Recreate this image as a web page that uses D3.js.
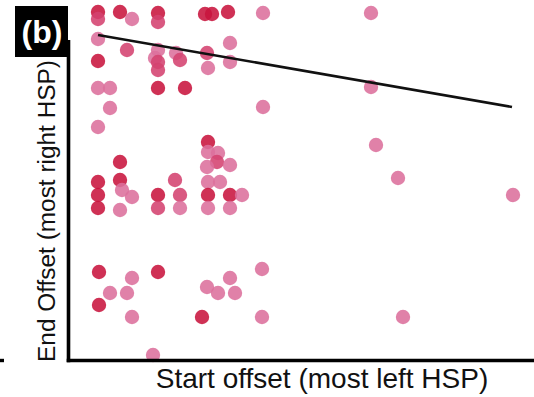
<!DOCTYPE html>
<html>
<head>
<meta charset="utf-8">
<script src="https://cdn.jsdelivr.net/npm/d3@7/dist/d3.min.js"></script>
<style>
  html, body { margin: 0; padding: 0; background: #fff; }
  svg { display: block; }
  text { font-family: "Liberation Sans", Arial, Helvetica, sans-serif; }
</style>
</head>
<body>
<svg id="chart" width="534" height="397"></svg>
<script>
// Start offset (most left HSP) of each hit
const startOffset = [
  30, 30, 52, 64, 90, 90, 137, 144, 160, 195, 303,
  30, 59, 87, 90, 90, 90, 108, 112, 139, 140, 162, 162, 30, 303,
  30, 42, 90, 117, 42, 30, 195, 308, 330, 445,
  140, 140, 150, 149, 139, 162, 52,
  30, 30, 30, 52, 54, 64, 52,
  107, 90, 112, 90, 112,
  140, 140, 140, 152, 162, 174, 162,
  31, 90, 194, 64, 42, 59, 31, 64, 139, 162, 150, 167, 134, 194, 335, 85
];
// End offset (most right HSP) of each hit
const endOffset = [
  348, 341, 348, 341, 347, 338, 346, 346, 348, 347, 347,
  321, 310, 302, 310, 298, 290, 307, 300, 307, 292, 317, 298, 299, 273,
  272, 272, 272, 272, 252, 233, 253, 215, 182, 165,
  218, 208, 207, 198, 193, 195, 198,
  178, 165, 152, 180, 170, 163, 150,
  180, 165, 165, 152, 152,
  178, 165, 152, 178, 165, 165, 152,
  88, 88, 91, 82, 67, 67, 55, 43, 73, 82, 67, 67, 43, 43, 43, 5
];
// Shade of each hit: 0 = strong, 1 = medium, 2 = weak
const shade = [
  0, 1, 0, 2, 0, 1, 0, 0, 0, 2, 2,
  2, 1, 2, 2, 1, 1, 2, 1, 1, 2, 2, 2, 0, 2,
  2, 2, 0, 0, 2, 2, 2, 2, 2, 2,
  0, 2, 2, 1, 2, 2, 0,
  0, 0, 0, 0, 2, 2, 2,
  1, 0, 1, 1, 2,
  2, 0, 2, 2, 0, 2, 2,
  0, 0, 2, 2, 2, 2, 0, 2, 2, 2, 2, 2, 0, 2, 2, 2
];
const shadeColors = ["#c8143e", "#d4426f", "#dc6f9c"];

// Fitted trend line (start, end)
const fitStart = [30, 325];
const fitEnd = [444, 253];

const xLabel = "Start offset (most left HSP)";
const yLabel = "End Offset (most right HSP)";
const panelTag = "(b)";

const svg = d3.select("#chart");

const x = d3.scaleLinear().domain([0, 466]).range([68, 534]);
const y = d3.scaleLinear().domain([0, 360]).range([360, 0]);

const points = startOffset.map((s, i) => ({ s, e: endOffset[i], k: shade[i] }));

// hits
svg.append("g")
  .selectAll("circle")
  .data(points)
  .join("circle")
  .attr("cx", d => x(d.s))
  .attr("cy", d => y(d.e))
  .attr("r", 7.2)
  .attr("fill", d => shadeColors[d.k])
  .attr("fill-opacity", 0.88);

// trend line
svg.append("line")
  .attr("x1", x(fitStart[0])).attr("y1", y(fitStart[1]))
  .attr("x2", x(fitEnd[0])).attr("y2", y(fitEnd[1]))
  .attr("stroke", "#111")
  .attr("stroke-width", 2.6);

// axes
svg.append("line")
  .attr("x1", 68.5).attr("y1", 40).attr("x2", 68.5).attr("y2", 362.3)
  .attr("stroke", "#000").attr("stroke-width", 3.6);
svg.append("line")
  .attr("x1", 66.7).attr("y1", 360.5).attr("x2", 534).attr("y2", 360.5)
  .attr("stroke", "#000").attr("stroke-width", 3.6);

// edge of the neighbouring panel's axis
svg.append("line")
  .attr("x1", 0).attr("y1", 360.5).attr("x2", 4).attr("y2", 360.5)
  .attr("stroke", "#000").attr("stroke-width", 3.4);

// panel tag
svg.append("rect")
  .attr("x", 15).attr("y", 6).attr("width", 53).attr("height", 51)
  .attr("fill", "#000");
svg.append("text")
  .attr("x", 42).attr("y", 43)
  .attr("text-anchor", "middle")
  .attr("fill", "#fff")
  .attr("font-weight", "bold")
  .attr("font-size", 32)
  .text(panelTag);

// axis titles
svg.append("text")
  .attr("x", 322).attr("y", 388)
  .attr("text-anchor", "middle")
  .attr("font-size", 28)
  .attr("fill", "#111")
  .text(xLabel);

svg.append("text")
  .attr("transform", "translate(55,211) rotate(-90)")
  .attr("text-anchor", "middle")
  .attr("font-size", 24.4)
  .attr("fill", "#111")
  .text(yLabel);
</script>
</body>
</html>
